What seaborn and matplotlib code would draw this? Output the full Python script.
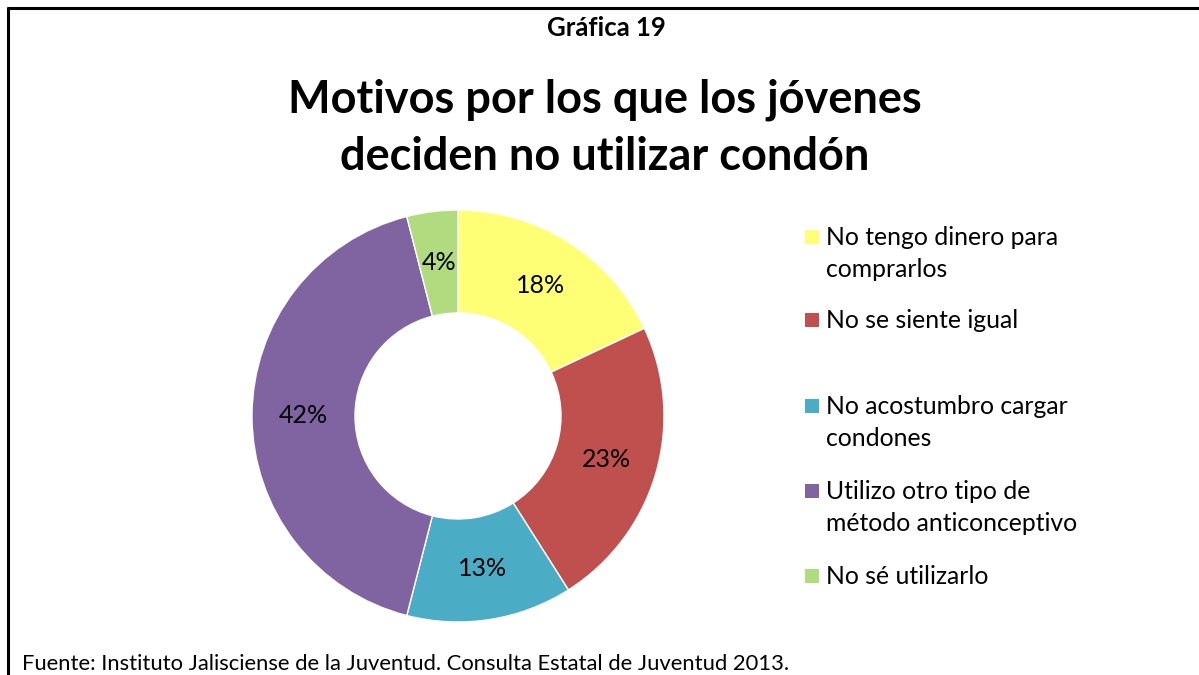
import matplotlib
matplotlib.use("Agg")
import matplotlib.pyplot as plt
import seaborn as sns
from matplotlib.patches import Rectangle

categories = ["No tengo dinero para\ncomprarlos", "No se siente igual",
              "No acostumbro cargar\ncondones", "Utilizo otro tipo de\nmétodo anticonceptivo",
              "No sé utilizarlo"]
values = [18, 23, 13, 42, 4]
colors = ["#FFFF75", "#C0504D", "#4BACC6", "#8064A2", "#B0DB7F"]

sns.set_theme(style="white")
plt.rcParams["font.family"] = ["Lato", "DejaVu Sans"]
plt.rcParams["text.color"] = "black"

W, H = 1199, 675
fig = plt.figure(figsize=(W/100, H/100), dpi=100)

def fx(x):
    return x / W

def fy(y):
    return 1 - y / H

# outer frame (runs off the right and bottom edges like the reference)
fig.add_artist(plt.Line2D([fx(8), fx(8)], [0, fy(7.5)], transform=fig.transFigure,
                          color="black", lw=2.2))
fig.add_artist(plt.Line2D([fx(8), 1], [fy(7.5), fy(7.5)], transform=fig.transFigure,
                          color="black", lw=2.2))

fig.text(fx(606), fy(28), "Gráfica 19", ha="center", va="center",
         fontsize=18.5, fontweight="bold")
fig.text(fx(605), fy(100), "Motivos por los que los jóvenes", ha="center", va="center",
         fontsize=32.5, fontweight="bold")
fig.text(fx(605), fy(157), "deciden no utilizar condón", ha="center", va="center",
         fontsize=32.5, fontweight="bold")
fig.text(fx(22), fy(664), "Fuente: Instituto Jalisciense de la Juventud. Consulta Estatal de Juventud 2013.",
         ha="left", va="center", fontsize=15.8)

# donut, center (458,416), outer radius ~206 px
r = 206
ax = fig.add_axes([fx(458 - r), fy(416 + r), 2*r/W, 2*r/H])
wedges, texts, autotexts = ax.pie(values, colors=colors, startangle=90, counterclock=False,
                                  autopct="%d%%", pctdistance=0.75,
                                  wedgeprops=dict(width=0.5, edgecolor="white", linewidth=1),
                                  textprops=dict(fontsize=18, color="black"))
ax.set_aspect("equal")
ax.set_xlim(-1, 1)
ax.set_ylim(-1, 1)
ax.axis("off")

# legend: entries evenly spaced by first line, like the reference
row_y = [238, 321, 407, 492, 577]
for lab, col, y in zip(categories, colors, row_y):
    fig.add_artist(Rectangle((fx(805), fy(y + 6)), 14/W, 14/H, transform=fig.transFigure,
                             facecolor=col, edgecolor="none"))
    fig.text(fx(826), fy(y - 12), lab, ha="left", va="top", fontsize=17.8,
             linespacing=1.45)

fig.savefig("out.png", dpi=100)
